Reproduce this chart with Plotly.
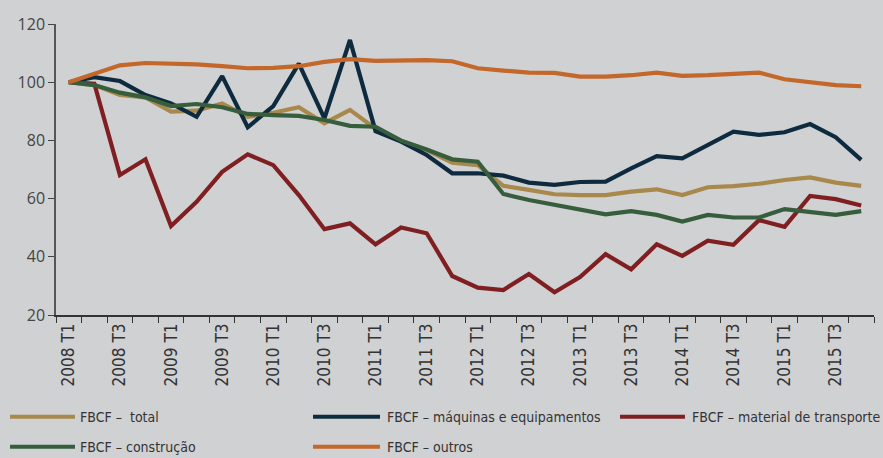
import plotly.graph_objects as go

categories = [f"{y} T{q}" for y in range(2008, 2016) for q in range(1, 5)]
tick_labels = [c if c.endswith("T1") or c.endswith("T3") else "" for c in categories]

total = [100, 99.0, 95.6, 94.8, 89.9, 90.2, 92.7, 88.1, 89.5, 91.4, 85.9, 90.5,
         84.0, 79.9, 76.7, 72.3, 71.5, 64.4, 63.0, 61.5, 61.2, 61.2, 62.4, 63.2,
         61.2, 63.9, 64.3, 65.1, 66.4, 67.3, 65.5, 64.4]
maquinas = [100, 101.7, 100.4, 95.6, 92.7, 88.1, 102.1, 84.5, 91.8, 106.4, 87.6, 114.5,
            83.2, 79.6, 75.0, 68.7, 68.7, 67.9, 65.5, 64.7, 65.7, 65.8, 70.4, 74.6,
            73.8, 78.4, 83.0, 81.9, 82.8, 85.6, 81.1, 73.3]
transporte = [100, 99.5, 68.1, 73.5, 50.6, 58.9, 69.2, 75.2, 71.5, 61.2, 49.5, 51.5,
              44.3, 50.1, 48.1, 33.4, 29.4, 28.6, 34.1, 27.8, 33.0, 40.9, 35.7, 44.3,
              40.3, 45.5, 44.1, 52.6, 50.3, 60.9, 59.8, 57.6]
construcao = [100, 99.0, 96.4, 94.8, 91.8, 92.5, 91.4, 89.1, 88.7, 88.4, 87.0, 85.0,
              84.7, 79.9, 76.9, 73.5, 72.7, 61.6, 59.5, 57.8, 56.2, 54.6, 55.7, 54.4,
              52.1, 54.4, 53.5, 53.5, 56.4, 55.5, 54.4, 55.7]
outros = [100, 103.0, 105.8, 106.6, 106.5, 106.1, 105.5, 104.8, 104.9, 105.5, 107.0, 107.9,
          107.3, 107.6, 107.6, 107.2, 104.8, 104.0, 103.3, 103.2, 101.9, 101.9, 102.4, 103.3,
          102.2, 102.4, 102.8, 103.3, 101.0, 100.1, 99.0, 98.6]

series_names = ["FBCF –\u00a0 total", "FBCF – máquinas e equipamentos",
                "FBCF – material de transporte", "FBCF – construção", "FBCF – outros"]
series_values = [total, maquinas, transporte, construcao, outros]
colors = ["#A8884B", "#0E2A3E", "#7F1F22", "#365E3C", "#C3672A"]

fig = go.Figure()
for name, vals, col in zip(series_names, series_values, colors):
    fig.add_trace(go.Scatter(x=categories, y=vals, mode="lines", name=name,
                             line=dict(color=col, width=4.2), showlegend=False))

# custom legend (long line swatches)
leg_pos = [(-0.0562, 0.0232, 0.0269, -0.350),
           (0.3142, 0.3961, 0.4022, -0.350),
           (0.6895, 0.7689, 0.7751, -0.350),
           (-0.0562, 0.0232, 0.0269, -0.453),
           (0.3142, 0.3961, 0.4022, -0.453)]
cond_font = "DejaVu Sans Condensed, Open Sans, sans-serif"
for name, col, (x0, x1, xt, yy) in zip(series_names, colors, leg_pos):
    fig.add_shape(type="line", xref="paper", yref="paper", x0=x0, x1=x1, y0=yy, y1=yy,
                  line=dict(color=col, width=4))
    fig.add_annotation(xref="paper", yref="paper", x=xt, y=yy, text=name, showarrow=False,
                       xanchor="left", yanchor="middle",
                       font=dict(family=cond_font, size=14, color="#333333"))

fig.update_layout(
    width=883, height=458,
    paper_bgcolor="#D0D1D3", plot_bgcolor="#D0D1D3",
    margin=dict(l=56, r=9, t=24, b=143),
    font=dict(family="Open Sans, sans-serif", color="#444444"),
)
fig.update_xaxes(
    type="category", range=[-0.5, 31.5],
    tickmode="array", tickvals=categories, ticktext=tick_labels,
    tickson="boundaries", ticks="outside", ticklen=6, tickwidth=1, tickcolor="#333333",
    tickangle=-90, showline=True, linecolor="#333333", linewidth=1.5,
    showgrid=False, zeroline=False,
    tickfont=dict(family=cond_font, size=17, color="#333333"),
)
fig.update_yaxes(
    range=[20, 120], dtick=20, tick0=20, ticks="outside", ticklen=6, tickwidth=1,
    tickcolor="#444444", showline=True, linecolor="#555555", linewidth=1.5,
    showgrid=False, zeroline=False,
    tickfont=dict(family="Open Sans, sans-serif", size=16, color="#444444"),
)

fig.write_html("out.html", config={"displayModeBar": False},
               post_script="document.body.style.margin='0';")
